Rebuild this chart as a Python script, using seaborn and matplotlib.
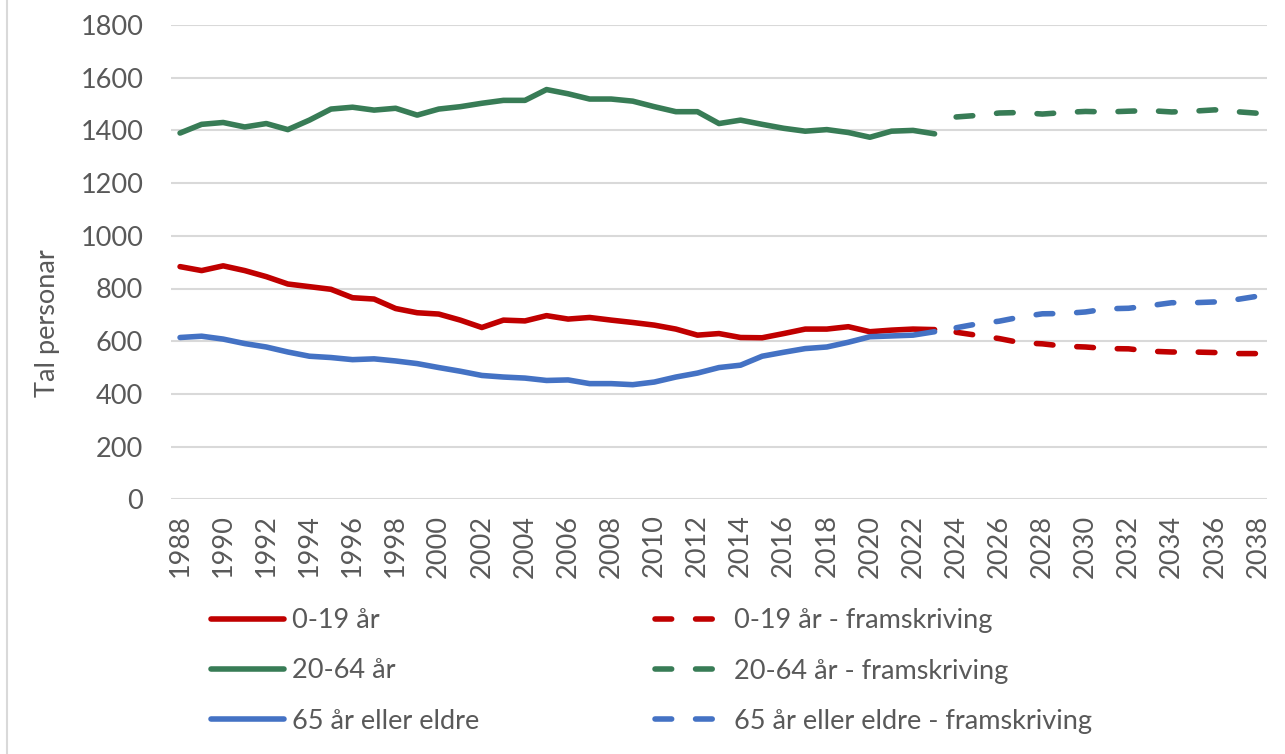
import numpy as np
import pandas as pd
import matplotlib
matplotlib.use("Agg")
import matplotlib.pyplot as plt
from matplotlib.lines import Line2D
import seaborn as sns

# observed years and projection years
years = list(range(1988, 2024))
proj_years = list(range(2024, 2039))

age_0_19 = [883, 868, 886, 868, 845, 817, 807, 797, 765, 760, 724, 708, 703, 680,
            652, 680, 677, 697, 684, 690, 680, 671, 661, 646, 623, 629, 614, 613,
            629, 646, 646, 655, 636, 642, 646, 644]
age_20_64 = [1390, 1423, 1430, 1413, 1426, 1403, 1439, 1481, 1488, 1477, 1484, 1458,
             1481, 1490, 1503, 1514, 1514, 1555, 1539, 1519, 1519, 1511, 1490, 1471,
             1471, 1426, 1439, 1423, 1408, 1397, 1403, 1392, 1374, 1397, 1400, 1387]
age_65 = [614, 619, 608, 591, 578, 559, 543, 538, 530, 533, 525, 515, 500, 486,
          470, 464, 460, 451, 453, 439, 439, 435, 445, 464, 479, 500, 509, 543,
          558, 572, 578, 596, 617, 620, 623, 636]

proj_0_19 = [634, 622, 610, 594, 590, 581, 578, 572, 571, 562, 559, 559, 557, 553, 553]
proj_20_64 = [1451, 1457, 1466, 1468, 1462, 1468, 1472, 1470, 1473, 1475, 1470, 1473,
              1478, 1471, 1465]
proj_65 = [651, 666, 676, 692, 704, 705, 711, 723, 725, 735, 746, 746, 749, 758, 771]

labels = ["0-19 år", "20-64 år", "65 år eller eldre"]
colors = ["#C00000", "#387C56", "#4472C4"]
text_col = "#595959"
grid_col = "#D9D9D9"

sns.set_theme(style="white")
plt.rcParams["font.family"] = ["Lato", "DejaVu Sans"]
fs = 19.5

W, H = 1285, 754
fig = plt.figure(figsize=(W / 100, H / 100), dpi=100)
ax = fig.add_axes([171 / W, 1 - 499.3 / H, (1267 - 171) / W, (499.3 - 25) / H])

lw = 4.0
dash = (0, (3.0, 4.3))
solid_handles, dash_handles = [], []
for lab, col, obs, proj in zip(labels, colors,
                               [age_0_19, age_20_64, age_65],
                               [proj_0_19, proj_20_64, proj_65]):
    df_obs = pd.DataFrame({"year": years, "value": obs})
    df_proj = pd.DataFrame({"year": proj_years, "value": proj})
    sns.lineplot(data=df_obs, x="year", y="value", ax=ax, color=col,
                 linewidth=lw, solid_capstyle="round", solid_joinstyle="round")
    sns.lineplot(data=df_proj, x="year", y="value", ax=ax, color=col,
                 linewidth=lw, linestyle=dash, dash_capstyle="round")
    solid_handles.append(Line2D([], [], color=col, lw=lw, solid_capstyle="round"))
    dash_handles.append(Line2D([], [], color=col, lw=lw, linestyle=dash,
                               dash_capstyle="round"))

ax.set_xlim(1987.58, 2038.42)
ax.set_ylim(0, 1800)
ax.set_xticks(range(1988, 2039, 2))
ax.set_yticks(range(0, 1801, 200))
ax.tick_params(axis="x", labelrotation=90, labelsize=fs, colors=text_col, length=0, pad=11)
ax.tick_params(axis="y", labelsize=fs, colors=text_col, length=0, pad=20)
ax.grid(axis="y", color=grid_col, linewidth=1.5)
ax.grid(axis="x", visible=False)
ax.set_axisbelow(True)
for s in ax.spines.values():
    s.set_visible(False)

ax.set_xlabel("")
ax.set_ylabel("Tal personar", fontsize=fs, color=text_col)
ax.yaxis.set_label_coords((60 - 171) / (1267 - 171), (499.3 - 323) / (499.3 - 25))

leg_kw = dict(frameon=False, fontsize=fs, labelcolor=text_col, labelspacing=0.93,
              borderaxespad=0, borderpad=0, loc="center left")
leg1 = fig.legend(solid_handles, labels, bbox_to_anchor=(211 / W, 1 - 671 / H),
                  handlelength=2.7, handletextpad=0.3, **leg_kw)
leg2 = fig.legend(dash_handles, [l + " - framskriving" for l in labels],
                  bbox_to_anchor=(655 / W, 1 - 671 / H),
                  handlelength=2.4, handletextpad=0.5, **leg_kw)

# chart-area border on the left edge
fig.add_artist(Line2D([7 / W, 7 / W], [0, 1], transform=fig.transFigure,
                      color=grid_col, linewidth=1.5))

fig.savefig("out.png", dpi=100, facecolor="white")
